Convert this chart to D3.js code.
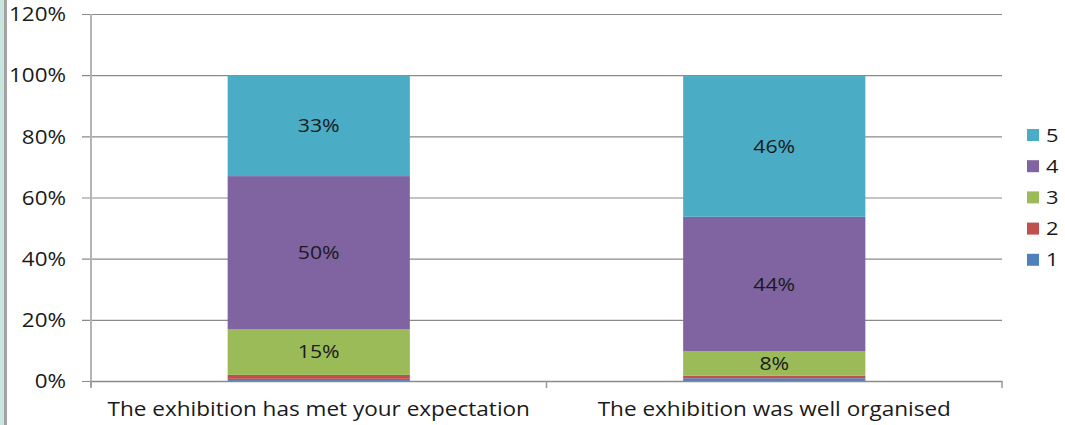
<!DOCTYPE html>
<html>
<head>
<meta charset="utf-8">
<script src="https://cdn.jsdelivr.net/npm/d3@7"></script>
<style>
  html, body { margin: 0; padding: 0; background: #fff; }
  svg { display: block; }
  text { font-family: "Open Sans", "Noto Sans", sans-serif; fill: #1a1a1a; }
</style>
</head>
<body>
<svg id="chart" width="1065" height="425"></svg>
<script>
// Survey questions (x categories)
const categories = ["The exhibition has met your expectation", "The exhibition was well organised"];
// Rating levels, bottom of the stack first
const ratings = ["1", "2", "3", "4", "5"];
// Share of answers per rating (%), one entry per category
const rating1 = [0.7, 0.9];
const rating2 = [1.3, 0.8];
const rating3 = [15, 8];
const rating4 = [50, 44];
const rating5 = [33, 46];
// Ratings whose share is printed inside the bar
const labelledRatings = ["3", "4", "5"];
// Y axis ticks (%)
const yTicks = [0, 20, 40, 60, 80, 100, 120];

const colors = { "1": "#4f81bd", "2": "#c0504d", "3": "#9bbb59", "4": "#8064a2", "5": "#4bacc6" };

const seriesValues = { "1": rating1, "2": rating2, "3": rating3, "4": rating4, "5": rating5 };
const rows = categories.map((c, i) => {
  const r = { category: c };
  ratings.forEach(k => { r[k] = seriesValues[k][i]; });
  return r;
});

const svg = d3.select("#chart");
const margin = { left: 91, right: 1002, top: 14, bottom: 381 };
const stretch = 1.15; // the typeface runs slightly wide

function label(sel, anchor, size) {
  return sel.append("text")
    .attr("text-anchor", anchor)
    .attr("font-size", size)
    .attr("dy", "0.35em");
}

// Window frame on the left edge
svg.append("rect").attr("x", 0).attr("y", 0).attr("width", 5).attr("height", 425).attr("fill", "#c9e5df");
svg.append("rect").attr("x", 4).attr("y", 0).attr("width", 3).attr("height", 425).attr("fill", "#a3a3a3");

const x = d3.scaleBand().domain(categories).range([margin.left, margin.right]).paddingInner(0).paddingOuter(0);
const y = d3.scaleLinear().domain([0, 120]).range([margin.bottom, margin.top]);
const barW = x.bandwidth() * 0.4;

// Horizontal gridlines with outward ticks
const yAxis = d3.axisLeft(y).tickValues(yTicks).tickFormat("")
  .tickSize(-(margin.right - margin.left)).tickPadding(0);
const gy = svg.append("g").attr("transform", `translate(${margin.left},0)`).call(yAxis);
gy.select(".domain").remove();
gy.selectAll(".tick line").attr("x1", -9).attr("stroke", "#8a8a8a").attr("stroke-width", 1.2);
gy.selectAll(".tick text").remove();
gy.selectAll(".tick").each(function (d) {
  label(d3.select(this), "end", 19.5)
    .attr("transform", `translate(-25,0) scale(${stretch},1)`)
    .text(d + "%");
});

// Stacked bars
const stack = d3.stack().keys(ratings)(rows);
const layers = svg.append("g").selectAll("g").data(stack).join("g").attr("fill", d => colors[d.key]);
layers.selectAll("rect").data(d => d).join("rect")
  .attr("x", d => x(d.data.category) + (x.bandwidth() - barW) / 2)
  .attr("width", barW)
  .attr("y", d => y(d[1]))
  .attr("height", d => y(d[0]) - y(d[1]));

// Value labels inside the larger segments
const valueLayer = svg.append("g");
stack.filter(s => labelledRatings.includes(s.key)).forEach(s => {
  s.forEach(d => {
    label(valueLayer, "middle", 18.5)
      .attr("transform", `translate(${x(d.data.category) + x.bandwidth() / 2},${y((d[0] + d[1]) / 2)}) scale(${stretch},1)`)
      .text(Math.round(d[1] - d[0]) + "%");
  });
});

// Y axis line
svg.append("line").attr("x1", margin.left).attr("x2", margin.left)
  .attr("y1", margin.top).attr("y2", margin.bottom + 6)
  .attr("stroke", "#b4b4b4").attr("stroke-width", 2);

// X axis with category separators
const xAxis = d3.axisBottom(x).tickSize(0).tickFormat("");
const gx = svg.append("g").attr("transform", `translate(0,${margin.bottom})`).call(xAxis);
gx.select(".domain").attr("stroke", "#8a8a8a").attr("stroke-width", 1.5);
gx.selectAll(".tick").each(function (d) {
  label(d3.select(this), "middle", 19.6)
    .attr("transform", `translate(0,28) scale(${stretch},1)`)
    .text(d);
});
const boundaries = categories.map(c => x(c)).concat([margin.right]);
svg.append("g").selectAll("line").data(boundaries).join("line")
  .attr("x1", d => d).attr("x2", d => d)
  .attr("y1", margin.bottom).attr("y2", margin.bottom + 7)
  .attr("stroke", "#9a9a9a").attr("stroke-width", 1.5);

// Legend, highest rating on top
const legend = svg.append("g").selectAll("g").data(ratings.slice().reverse()).join("g")
  .attr("transform", (d, i) => `translate(1027,${135 + i * 31.2})`);
legend.append("rect").attr("x", 0).attr("y", -6).attr("width", 12).attr("height", 12)
  .attr("fill", d => colors[d]);
legend.each(function (d) {
  label(d3.select(this), "start", 19)
    .attr("transform", `translate(19,0) scale(${stretch},1)`)
    .text(d);
});
</script>
</body>
</html>
